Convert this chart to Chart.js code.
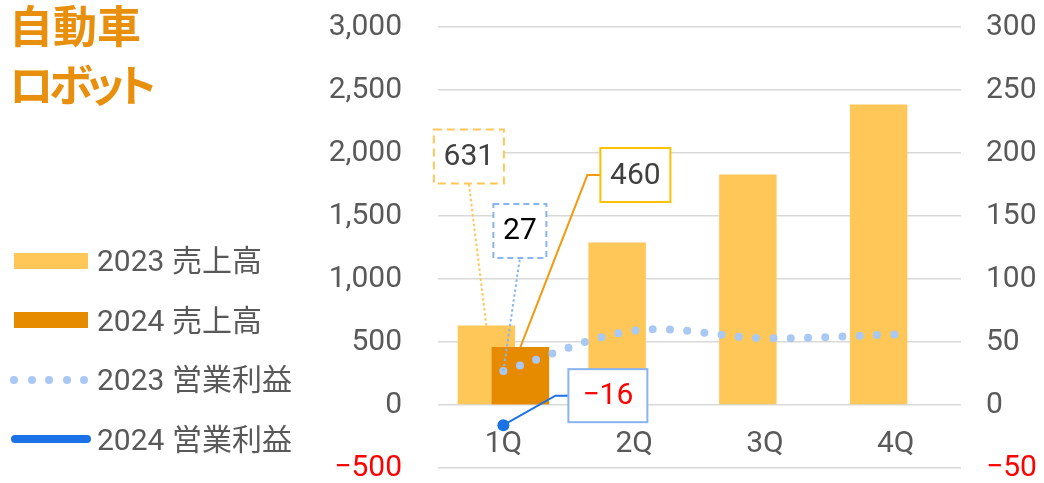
<!DOCTYPE html>
<html lang="ja">
<head>
<meta charset="utf-8">
<title>自動車 ロボット</title>
<script src="https://cdn.jsdelivr.net/npm/chart.js@4"></script>
<style>
    html, body { margin: 0; padding: 0; background: #fff; }
    #wrap { position: relative; width: 1044px; height: 483px; overflow: hidden; }
    #chart-box { position: absolute; left: 0; top: 0; width: 1044px; height: 483px; }
    #title {
        position: absolute; left: 9px; top: -5px;
        font-family: 'Noto Sans CJK JP', sans-serif; font-weight: 700;
        font-size: 44px; line-height: 59px; color: #e8900e;
        font-feature-settings: "palt";
    }
    #title .kana { letter-spacing: -5px; }
    #legend { position: absolute; left: 0; top: 231px; }
    .legend-item { position: relative; height: 59.5px; width: 320px; }
    .legend-item .label {
        position: absolute; left: 97px; top: 0; line-height: 59.5px;
        font-family: Roboto, 'Noto Sans CJK JP', sans-serif; font-size: 30px; color: #595959;
        white-space: nowrap;
    }
    .sw-bar { position: absolute; left: 14px; top: 21.5px; width: 74px; height: 16px; }
    .sw-line { position: absolute; left: 11px; top: 25.5px; width: 80px; height: 8px; border-radius: 4px; }
    .sw-dots { position: absolute; left: 10px; top: 25.5px; width: 78px; height: 8px; display: flex; justify-content: space-between; }
    .sw-dots span { width: 8px; height: 8px; border-radius: 50%; }
</style>
</head>
<body>
<div id="wrap">
    <div id="chart-box"><canvas id="chart"></canvas></div>
    <div id="title">自動車<br><span class="kana">ロボット</span></div>
    <div id="legend"></div>
</div>
<script>
(function () {
    var quarters = ['1Q', '2Q', '3Q', '4Q'];
    var sales2023 = [631, 1290, 1830, 2385];
    var sales2024 = [460, null, null, null];
    var profit2023 = [27, 59, 53, 56];
    var profit2024 = [-16, null, null, null];

    var seriesNames = ['2023 売上高', '2024 売上高', '2023 営業利益', '2024 営業利益'];

    var colors = {
        sales2023: '#ffc658',
        sales2024: '#e68a00',
        profit2023: '#a9c8f4',
        profit2024: '#1b72e6',
        tick: '#595959',
        negative: '#ff0000',
        grid: '#d9d9d9',
    };

    function fmt(v) {
        var s = Math.abs(v).toLocaleString('en-US');
        return v < 0 ? '\u2212' + s : s;
    }

    function tickColor(ctx) {
        return ctx.tick && ctx.tick.value < 0 ? colors.negative : colors.tick;
    }

    // callout boxes: offsets are from the point / bar top they describe
    var callouts = [
        { dataset: 0, index: 0, dx: -17.5, dy: -169, w: 70, h: 54, box: colors.sales2023, boxDash: [8, 5],
          line: colors.sales2023, lineDash: [2.5, 2.5], text: '#404040', elbow: false },
        { dataset: 1, index: 0, dx: 115, dy: -172, w: 70, h: 54, box: '#ffc000', boxDash: [],
          line: '#f39a12', lineDash: [], text: '#404040', elbow: true },
        { dataset: 2, index: 0, dx: 16.5, dy: -140, w: 53, h: 54, box: '#8ab4f0', boxDash: [6, 4],
          line: '#8ab4f0', lineDash: [2.5, 2.5], text: '#000000', elbow: false },
        { dataset: 3, index: 0, dx: 104.5, dy: -29.5, w: 79, h: 53, box: '#8ab4f0', boxDash: [],
          line: colors.profit2024, lineDash: [], text: colors.negative, elbow: true },
    ];

    var calloutPlugin = {
        id: 'callouts',
        afterDatasetDraw: function (chart, args) {
            // 2024 bar overlaps the 2023 bar and sits on top of it
            if (args.index === 0) {
                chart.getDatasetMeta(1).controller.draw();
            }
        },
        afterDatasetsDraw: function (chart) {
            var ctx = chart.ctx;
            callouts.forEach(function (c) {
                var el = chart.getDatasetMeta(c.dataset).data[c.index];
                var value = chart.data.datasets[c.dataset].data[c.index];
                var ax = el.x, ay = el.y;
                var cx = ax + c.dx, cy = ay + c.dy;
                var left = cx - c.w / 2, top = cy - c.h / 2;

                ctx.save();
                ctx.lineWidth = 2;
                ctx.strokeStyle = c.line;
                ctx.setLineDash(c.lineDash);
                ctx.beginPath();
                ctx.moveTo(ax, ay);
                if (c.elbow) {
                    ctx.lineTo(left - 13, cy);
                    ctx.lineTo(left, cy);
                } else {
                    ctx.lineTo(cx, top + c.h);
                }
                ctx.stroke();

                ctx.fillStyle = '#fff';
                ctx.fillRect(left, top, c.w, c.h);
                ctx.setLineDash(c.boxDash);
                ctx.strokeStyle = c.box;
                ctx.strokeRect(left, top, c.w, c.h);

                ctx.fillStyle = c.text;
                ctx.font = "30px Roboto, 'Noto Sans CJK JP', sans-serif";
                ctx.textAlign = 'center';
                ctx.textBaseline = 'middle';
                ctx.fillText(fmt(value), cx, cy + 1);
                ctx.restore();
            });
        },
    };

    function buildLegend() {
        var legendEl = document.getElementById('legend');
        var kinds = ['bar', 'bar', 'dots', 'line'];
        var swatchColors = [colors.sales2023, colors.sales2024, colors.profit2023, colors.profit2024];
        seriesNames.forEach(function (name, i) {
            var item = document.createElement('div');
            item.className = 'legend-item';
            var sw = document.createElement('div');
            if (kinds[i] === 'dots') {
                sw.className = 'sw-dots';
                for (var k = 0; k < 5; k++) {
                    var d = document.createElement('span');
                    d.style.backgroundColor = swatchColors[i];
                    sw.appendChild(d);
                }
            } else {
                sw.className = kinds[i] === 'bar' ? 'sw-bar' : 'sw-line';
                sw.style.backgroundColor = swatchColors[i];
            }
            item.appendChild(sw);
            var label = document.createElement('span');
            label.className = 'label';
            label.textContent = name;
            item.appendChild(label);
            legendEl.appendChild(item);
        });
    }

    Chart.defaults.font.family = "Roboto, 'Noto Sans CJK JP', sans-serif";
    Chart.defaults.font.size = 30;
    Chart.defaults.color = colors.tick;

    buildLegend();

    // tick marks are invisible; their length only sets the label gap
    var hiddenTick = 'rgba(0,0,0,0)';

    new Chart(document.getElementById('chart'), {
        type: 'bar',
        data: {
            labels: quarters,
            datasets: [
                {
                    label: seriesNames[0],
                    data: sales2023,
                    backgroundColor: colors.sales2023,
                    yAxisID: 'y',
                    order: 1,
                    categoryPercentage: 0.52,
                    barPercentage: 1.69,
                },
                {
                    label: seriesNames[1],
                    data: sales2024,
                    backgroundColor: colors.sales2024,
                    yAxisID: 'y',
                    order: 1,
                    categoryPercentage: 0.52,
                    barPercentage: 1.69,
                },
                {
                    type: 'line',
                    label: seriesNames[2],
                    data: profit2023,
                    borderColor: colors.profit2023,
                    borderWidth: 8,
                    borderDash: [0, 17.3],
                    borderCapStyle: 'round',
                    pointRadius: 0,
                    tension: 0.35,
                    yAxisID: 'y1',
                    order: 0,
                },
                {
                    type: 'line',
                    label: seriesNames[3],
                    data: profit2024,
                    borderColor: colors.profit2024,
                    backgroundColor: colors.profit2024,
                    borderWidth: 3,
                    pointRadius: 6,
                    pointBorderWidth: 0,
                    yAxisID: 'y1',
                    order: 0,
                },
            ],
        },
        options: {
            responsive: true,
            maintainAspectRatio: false,
            animation: false,
            layout: { padding: { left: 318, right: 0, top: 27, bottom: 14.6 } },
            plugins: {
                legend: { display: false },
                tooltip: { enabled: false },
            },
            scales: {
                x: {
                    position: { y: 0 },
                    grid: { display: false },
                    border: { display: false },
                    ticks: { padding: 13, color: colors.tick, font: { size: 30 } },
                },
                y: {
                    position: 'left',
                    min: -500,
                    max: 3000,
                    afterFit: function (scale) { scale.width = 120; },
                    ticks: {
                        stepSize: 500,
                        padding: 0,
                        color: tickColor,
                        font: { size: 30, lineHeight: 1 },
                        callback: function (v) { return fmt(v); },
                    },
                    grid: { color: colors.grid, lineWidth: 1.5, drawTicks: true, tickLength: 36, tickColor: hiddenTick },
                    border: { display: false },
                },
                y1: {
                    position: 'right',
                    min: -50,
                    max: 300,
                    afterFit: function (scale) { scale.width = 83; },
                    ticks: {
                        stepSize: 50,
                        padding: 0,
                        color: tickColor,
                        font: { size: 30, lineHeight: 1 },
                        callback: function (v) { return fmt(v); },
                    },
                    grid: { drawOnChartArea: false, drawTicks: true, tickLength: 25, tickColor: hiddenTick },
                    border: { display: false },
                },
            },
        },
        plugins: [calloutPlugin],
    });
})();
</script>
</body>
</html>
